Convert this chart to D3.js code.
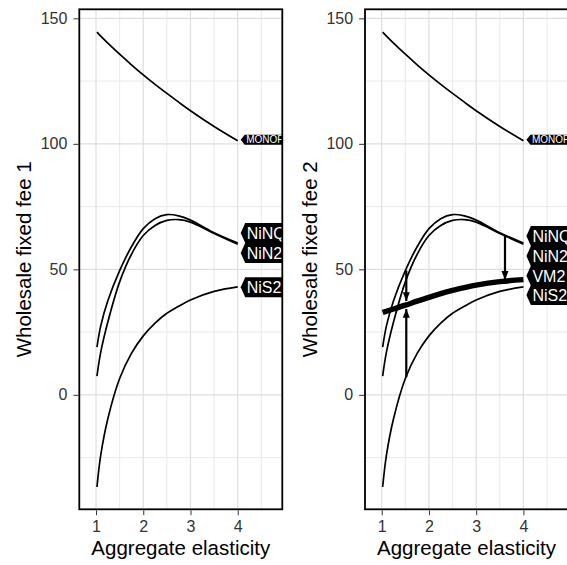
<!DOCTYPE html>
<html><head><meta charset="utf-8">
<script src="https://cdn.jsdelivr.net/npm/d3@7"></script>
<style>
body{margin:0;background:#fff}
svg{display:block}
text{font-family:"Liberation Sans",Arial,Helvetica,sans-serif}
</style>
</head><body>
<svg id="chart" width="567" height="565"></svg>
<script>
// ---------------- data ----------------
const xTicks = [1, 2, 3, 4];
const xMinor = [1.5, 2.5, 3.5, 4.5];
const yTicks = [0, 50, 100, 150];
const yMinor = [-25, 25, 75, 125];

const elasticity = [1.02, 1.1, 1.25, 1.5, 1.75, 2, 2.25, 2.5, 2.75, 3, 3.5, 4];
const monop = [144.5, 142.9, 140.1, 135.7, 131.5, 127.5, 123.7, 120.1, 116.6, 113.2, 106.9, 101.2];
const ninq  = [19.0, 27.5, 37.5, 49.5, 59.0, 66.2, 70.2, 71.8, 71.3, 69.6, 64.6, 60.5];
const nin2  = [7.5, 17.0, 29.0, 45.0, 56.0, 63.5, 67.5, 69.5, 69.8, 68.8, 64.3, 60.0];
const nis2  = [-36.7, -24.0, -9.5, 6.5, 16.5, 23.5, 28.6, 32.5, 35.3, 37.8, 41.2, 43.0];
const vm2   = [32.8, 33.3, 34.2, 35.7, 37.3, 38.8, 40.3, 41.6, 42.7, 43.7, 45.1, 45.9];

const labelNames1 = ["MONOP", "NiNQ", "NiN2", "NiS2"];
const labelY1     = [101.6, 64.5, 56.5, 42.9];
const labelNames2 = ["MONOP", "NiNQ", "NiN2", "VM2", "NiS2"];
const labelY2     = [101.6, 63.3, 55.3, 47.4, 39.8];
const labelX      = 4;

const arrowX    = [1.52, 1.52, 3.61];
const arrowFrom = [49.5, 7.0, 63.5];
const arrowTo   = [37.4, 34.2, 45.8];

const yTitles = ["Wholesale fixed fee 1", "Wholesale fixed fee 2"];
const xTitle = "Aggregate elasticity";

// ---------------- layout ----------------
const svg = d3.select("#chart");
const W = 567, H = 565;
svg.append("rect").attr("width", W).attr("height", H).attr("fill", "#fff");

const panelW = 203, pTop = 9.3, pBottom = 509.3;
const panelLefts = [79.3, 365.0];
const xDomain = [0.646, 4.944];
const yDomain = [-45.6, 153.6];

const defs = svg.append("defs");
const mk = defs.append("marker").attr("id", "arr")
  .attr("viewBox", "0 0 10 10").attr("refX", 10).attr("refY", 5)
  .attr("markerWidth", 4).attr("markerHeight", 4).attr("markerUnits", "strokeWidth")
  .attr("orient", "auto");
mk.append("path").attr("d", "M0,1 L10,5 L0,9 Z").attr("fill", "#000");

function drawPanel(i, series, thick, labelNames, labelY, arrows) {
  const L = panelLefts[i], R = L + panelW;
  const x = d3.scaleLinear().domain(xDomain).range([L, R]);
  const y = d3.scaleLinear().domain(yDomain).range([pBottom, pTop]);
  const g = svg.append("g");
  const clipId = "clip" + i;
  defs.append("clipPath").attr("id", clipId)
    .append("rect").attr("x", L).attr("y", pTop).attr("width", panelW).attr("height", pBottom - pTop);

  const pg = g.append("g").attr("clip-path", `url(#${clipId})`);
  // grid
  pg.selectAll(".vmin").data(xMinor).join("line")
    .attr("x1", d => x(d)).attr("x2", d => x(d)).attr("y1", pTop).attr("y2", pBottom)
    .attr("stroke", "#e6e6e6").attr("stroke-width", 0.9);
  pg.selectAll(".hmin").data(yMinor).join("line")
    .attr("x1", L).attr("x2", R).attr("y1", d => y(d)).attr("y2", d => y(d))
    .attr("stroke", "#e6e6e6").attr("stroke-width", 0.9);
  pg.selectAll(".vmaj").data(xTicks).join("line")
    .attr("x1", d => x(d)).attr("x2", d => x(d)).attr("y1", pTop).attr("y2", pBottom)
    .attr("stroke", "#dedede").attr("stroke-width", 1.2);
  pg.selectAll(".hmaj").data(yTicks).join("line")
    .attr("x1", L).attr("x2", R).attr("y1", d => y(d)).attr("y2", d => y(d))
    .attr("stroke", "#dedede").attr("stroke-width", 1.2);

  const line = d3.line().x(d => x(d[0])).y(d => y(d[1])).curve(d3.curveCatmullRom.alpha(0.5));
  series.forEach(s => {
    pg.append("path").attr("d", line(elasticity.map((e, k) => [e, s[k]])))
      .attr("fill", "none").attr("stroke", "#000").attr("stroke-width", 1.7);
  });
  if (thick) {
    pg.append("path").attr("d", line(elasticity.map((e, k) => [e, thick[k]])))
      .attr("fill", "none").attr("stroke", "#000").attr("stroke-width", 5.5);
  }
  if (arrows) {
    arrows.x.forEach((ax, k) => {
      pg.append("line")
        .attr("x1", x(ax)).attr("x2", x(ax))
        .attr("y1", y(arrows.from[k])).attr("y2", y(arrows.to[k]))
        .attr("stroke", "#000").attr("stroke-width", 2.2)
        .attr("marker-end", "url(#arr)");
    });
  }
  // labels
  labelNames.forEach((name, k) => {
    const small = name === "MONOP";
    const h = small ? 10 : 20;
    const cy = y(labelY[k]);
    const px = x(labelX) + 3;
    const bx = px + (small ? 4 : 4.5);
    const rx = R + 60;
    pg.append("path")
      .attr("d", `M${px},${cy} L${bx},${cy - h / 2} L${rx},${cy - h / 2} L${rx},${cy + h / 2} L${bx},${cy + h / 2} Z`)
      .attr("fill", "#000");
    pg.append("text").attr("x", bx + 1.5).attr("y", cy)
      .attr("dy", "0.36em").attr("fill", "#fff")
      .attr("font-size", small ? 10 : 16).text(name);
  });

  // border
  g.append("rect").attr("x", L).attr("y", pTop).attr("width", panelW).attr("height", pBottom - pTop)
    .attr("fill", "none").attr("stroke", "#000").attr("stroke-width", 1.8);

  // axes
  const ax = g.append("g").attr("transform", `translate(0,${pBottom + 0.9})`)
    .call(d3.axisBottom(x).tickValues(xTicks).tickSize(5).tickPadding(5).tickFormat(d3.format("d")));
  ax.select(".domain").remove();
  ax.selectAll(".tick line").attr("stroke", "#333");
  ax.selectAll(".tick text").attr("fill", "#333").attr("font-size", 16)
    .attr("font-family", "Liberation Sans, Arial, sans-serif");

  const ay = g.append("g").attr("transform", `translate(${L - 0.9},0)`)
    .call(d3.axisLeft(y).tickValues(yTicks).tickSize(5).tickPadding(6).tickFormat(d3.format("d")));
  ay.select(".domain").remove();
  ay.selectAll(".tick line").attr("stroke", "#333");
  ay.selectAll(".tick text").attr("fill", "#333").attr("font-size", 16)
    .attr("font-family", "Liberation Sans, Arial, sans-serif");

  g.append("text").attr("x", (L + R) / 2).attr("y", 555).attr("text-anchor", "middle")
    .attr("font-size", 20.5).attr("fill", "#000").text(xTitle);
  g.append("text").attr("transform", `translate(${L - 55},${(pTop + pBottom) / 2}) rotate(-90)`)
    .attr("text-anchor", "middle").attr("dy", "0.35em")
    .attr("font-size", 20.5).attr("fill", "#000").text(yTitles[i]);
}

drawPanel(0, [monop, ninq, nin2, nis2], null, labelNames1, labelY1, null);
drawPanel(1, [monop, ninq, nin2, nis2], vm2, labelNames2, labelY2,
  {x: arrowX, from: arrowFrom, to: arrowTo});
</script>
</body></html>
